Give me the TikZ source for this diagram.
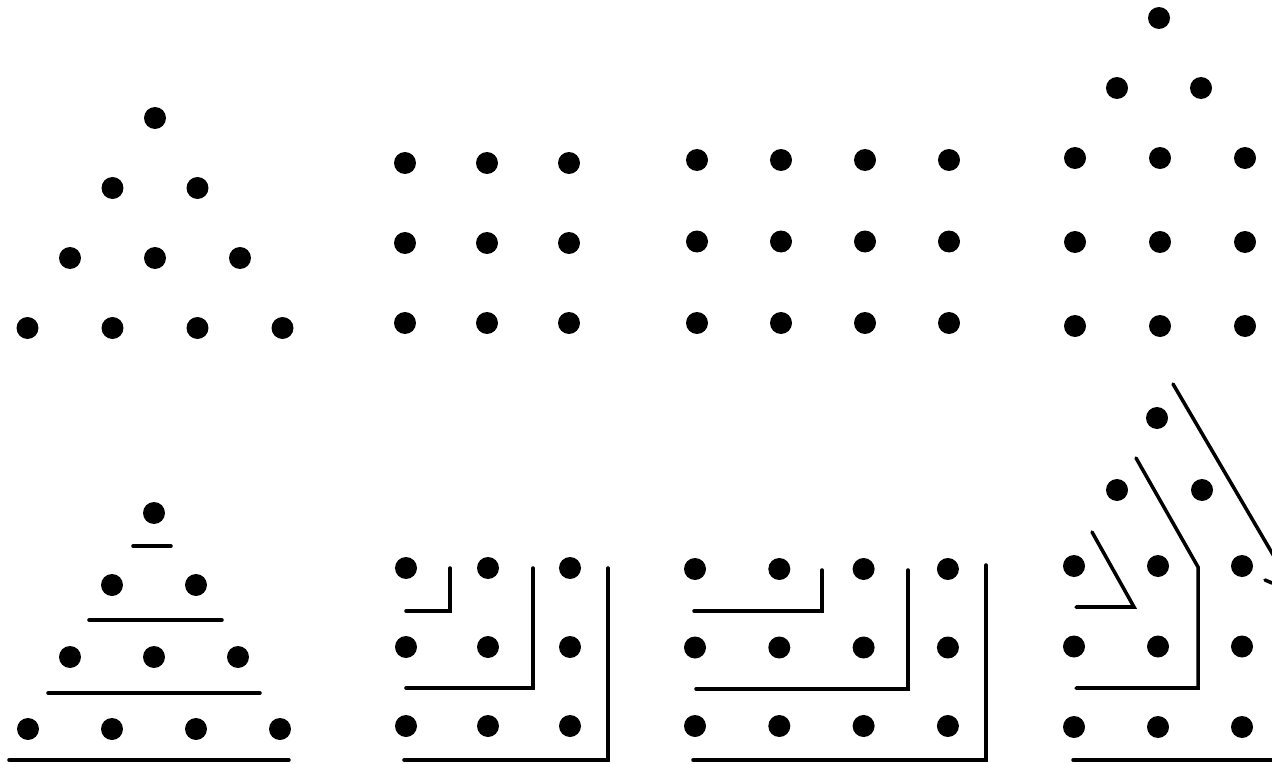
\documentclass[tikz,border=0pt]{standalone}
\usepackage{xcolor}
\usepackage{tikz}
\usetikzlibrary{positioning}
\definecolor{PegInk}{RGB}{0, 0, 0}

\tikzset{
  pdot/.style={circle, fill=PegInk, inner sep=0pt, minimum size=0.44cm},
  pline/.style={draw=PegInk, line width=2pt, line cap=round, line join=miter}
}

\begin{document}
\begin{tikzpicture}[x=0.02cm, y=-0.02cm]
  \useasboundingbox (0,0) rectangle (1272,764);
  \fill[white] (0,0) rectangle (1272,764);
  \clip (0,0) rectangle (1272,764);

  % top: triangle of ten
  \foreach \r in {0,...,3}
    \foreach \k in {0,...,\r}
      \node[pdot] (ta\r\k) at ({155-42.5*\r+85*\k}, {118+70*\r}) {};

  % top: square of nine
  \foreach \r in {0,1,2}
    \foreach \k in {0,1,2}
      \node[pdot] (tb\r\k) at ({405+82*\k}, {163+80*\r}) {};

  % top: oblong of twelve
  \foreach \r in {0,1,2}
    \foreach \k in {0,...,3}
      \node[pdot] (tc\r\k) at ({697+84*\k}, {160+81.5*\r}) {};

  % top: house of twelve
  \node[pdot] (td00) at (1159,18) {};
  \node[pdot] (td10) at (1117,88) {};
  \node[pdot] (td11) at (1201,88) {};
  \foreach \r in {2,3,4}
    \foreach \k in {0,1,2}
      \node[pdot] (td\r\k) at ({1075+85*\k}, {158+84*(\r-2)}) {};

  % bottom: triangle with rules
  \foreach \r in {0,...,3}
    \foreach \k in {0,...,\r}
      \node[pdot] (ba\r\k) at ({154-42*\r+84*\k}, {513+72*\r}) {};
  \draw[pline] (133,546) -- (171,546);
  \draw[pline] (89,620) -- (222,620);
  \draw[pline] (48,693) -- (260,693);
  \draw[pline] (9,760) -- (289,760);

  % bottom: square with gnomons
  \foreach \r in {0,1,2}
    \foreach \k in {0,1,2}
      \node[pdot] (bb\r\k) at ({406+82*\k}, {568+79*\r}) {};
  \draw[pline] (450,568) |- (406,611);
  \draw[pline] (533,568) |- (406,688);
  \draw[pline] (608,568) |- (404,760);

  % bottom: oblong with gnomons
  \foreach \r in {0,1,2}
    \foreach \k in {0,...,3}
      \node[pdot] (bc\r\k) at ({695+84.3*\k}, {569+78.5*\r}) {};
  \draw[pline] (822,570) |- (694,611);
  \draw[pline] (908,570) |- (696,689);
  \draw[pline] (986,565) |- (693,760);

  % bottom: house with gnomons
  \node[pdot] (bd00) at (1157,418) {};
  \node[pdot] (bd10) at (1117,490) {};
  \node[pdot] (bd11) at (1202,490) {};
  \foreach \r in {2,3,4}
    \foreach \k in {0,1,2}
      \node[pdot] (bd\r\k) at ({1074+84*\k}, {566+80.5*(\r-2)}) {};
  \draw[pline] (1092,532) -- (1134,607) -- (1076,607);
  \draw[pline] (1136,458) -- (1198,567) -- (1198,688) -- (1076,688);
  \draw[pline] (1173,384) -- (1282,570) -- (1282,800);
  \draw[pline] (1265,580) -- (1272,583);
  \draw[pline] (1073,760) -- (1272,760);
\end{tikzpicture}
\end{document}
